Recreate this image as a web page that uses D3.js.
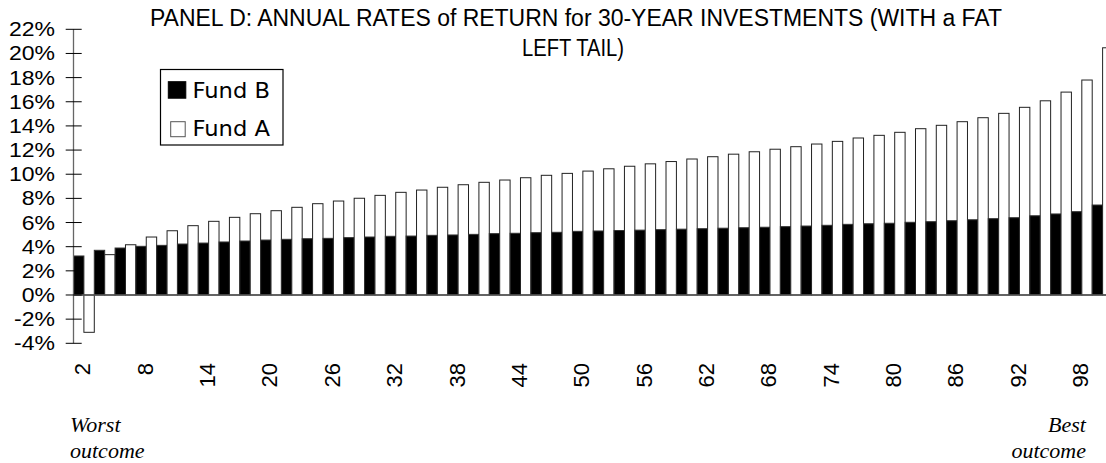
<!DOCTYPE html>
<html>
<head>
    <title></title>
    <meta charset="utf-8">
    <style>
        body { margin: 0; background: #fff; }
        svg { display: block; }
    </style>
</head>
<body>
<script src="https://cdn.jsdelivr.net/npm/d3@7"></script>
<script>
    // outcome ranks 2..100
    var outcomes = d3.range(2, 101, 2);
    var tickOutcomes = [2, 8, 14, 20, 26, 32, 38, 44, 50, 56, 62, 68, 74, 80, 86, 92, 98];
    var yTicks = [-4, -2, 0, 2, 4, 6, 8, 10, 12, 14, 16, 18, 20, 22];

    var fundB = [3.23, 3.70, 3.89, 4.03, 4.11, 4.22, 4.30, 4.39, 4.47, 4.55,
                 4.61, 4.66, 4.69, 4.75, 4.80, 4.86, 4.88, 4.94, 4.97, 5.02,
                 5.08, 5.11, 5.16, 5.19, 5.27, 5.30, 5.34, 5.37, 5.41, 5.45,
                 5.49, 5.53, 5.57, 5.61, 5.66, 5.71, 5.77, 5.85, 5.90, 5.94,
                 6.02, 6.07, 6.15, 6.23, 6.32, 6.40, 6.56, 6.71, 6.90, 7.45];
    var fundA = [-3.09, 3.34, 4.16, 4.80, 5.32, 5.74, 6.10, 6.43, 6.73, 6.98,
                 7.26, 7.56, 7.78, 8.01, 8.25, 8.50, 8.69, 8.92, 9.13, 9.33,
                 9.52, 9.71, 9.91, 10.07, 10.26, 10.45, 10.66, 10.86, 11.05, 11.26,
                 11.45, 11.66, 11.86, 12.07, 12.28, 12.50, 12.72, 13.00, 13.22, 13.47,
                 13.77, 14.05, 14.35, 14.68, 15.04, 15.54, 16.08, 16.80, 17.80, 20.47];

    var W = 1106, H = 463;
    var svg = d3.select('body').append('svg')
        .attr('width', W)
        .attr('height', H);

    var left = 73.5, groupW = 20.79;
    var x = d3.scaleBand()
        .domain(outcomes)
        .range([left, left + groupW * outcomes.length])
        .padding(0);
    var y = d3.scaleLinear().domain([-4, 22]).range([343.3, 29.3]);

    var sans = 'Liberation Sans, Arial, sans-serif';

    // bars
    var g = svg.append('g');
    outcomes.forEach(function (o, i) {
        var x0 = x(o), bw = x.bandwidth() / 2;
        g.append('rect')
            .attr('x', x0)
            .attr('width', bw)
            .attr('y', y(Math.max(0, fundB[i])))
            .attr('height', Math.abs(y(fundB[i]) - y(0)))
            .attr('fill', '#000')
            .attr('stroke', '#333')
            .attr('stroke-width', 1);
        g.append('rect')
            .attr('x', x0 + bw)
            .attr('width', bw)
            .attr('y', y(Math.max(0, fundA[i])))
            .attr('height', Math.abs(y(fundA[i]) - y(0)))
            .attr('fill', '#fff')
            .attr('stroke', '#222')
            .attr('stroke-width', 1);
    });

    // zero line
    svg.append('line')
        .attr('x1', left).attr('x2', W)
        .attr('y1', y(0)).attr('y2', y(0))
        .attr('stroke', '#555').attr('stroke-width', 1.3);

    // y axis with cross ticks
    svg.append('line')
        .attr('x1', left).attr('x2', left)
        .attr('y1', y(22)).attr('y2', y(-4))
        .attr('stroke', '#666').attr('stroke-width', 1.3);
    svg.selectAll('.ytick').data(yTicks).enter().append('line')
        .attr('x1', 65.7).attr('x2', 81.7)
        .attr('y1', function (d) { return y(d); })
        .attr('y2', function (d) { return y(d); })
        .attr('stroke', '#000').attr('stroke-width', 1);
    svg.selectAll('.ylab').data(yTicks).enter().append('text')
        .attr('x', 55)
        .attr('y', function (d) { return y(d); })
        .attr('dy', '0.36em')
        .attr('text-anchor', 'end')
        .attr('font-family', sans)
        .attr('font-size', 19.5)
        .text(function (d) { return d + '%'; })
        .each(function () {
            var len = this.getComputedTextLength();
            d3.select(this).attr('textLength', len * 1.18).attr('lengthAdjust', 'spacingAndGlyphs');
        });

    // x labels, rotated
    svg.selectAll('.xlab').data(tickOutcomes).enter().append('text')
        .attr('transform', function (d) {
            return 'translate(' + (x(d) + x.bandwidth() / 2 - 1.5) + ',363) rotate(-90)';
        })
        .attr('dy', '0.36em')
        .attr('text-anchor', 'end')
        .attr('font-family', sans)
        .attr('font-size', 22)
        .text(function (d) { return d; });

    // title
    var t1 = 'PANEL D:  ANNUAL RATES of RETURN for 30-YEAR INVESTMENTS (WITH a FAT';
    var t2 = 'LEFT TAIL)';
    svg.append('text')
        .attr('x', 576).attr('y', 25.7)
        .attr('text-anchor', 'middle')
        .attr('font-family', sans)
        .attr('font-size', 23.5)
        .attr('textLength', 852).attr('lengthAdjust', 'spacingAndGlyphs')
        .text(t1);
    svg.append('text')
        .attr('x', 573).attr('y', 55.7)
        .attr('text-anchor', 'middle')
        .attr('font-family', sans)
        .attr('font-size', 23.5)
        .attr('textLength', 102).attr('lengthAdjust', 'spacingAndGlyphs')
        .text(t2);

    // legend
    var lg = svg.append('g');
    lg.append('rect')
        .attr('x', 160.5).attr('y', 69.5)
        .attr('width', 122.5).attr('height', 75.5)
        .attr('fill', '#fff').attr('stroke', '#000').attr('stroke-width', 1.2);
    var legendItems = [
        { name: 'Fund B', fill: '#000', stroke: '#000', sy: 81.7, ty: 98.3 },
        { name: 'Fund A', fill: '#fff', stroke: '#555', sy: 121.7, ty: 135.5 }
    ];
    legendItems.forEach(function (it) {
        lg.append('rect')
            .attr('x', it.fill === '#000' ? 168.3 : 170.7)
            .attr('y', it.sy)
            .attr('width', it.fill === '#000' ? 17.5 : 14.5)
            .attr('height', it.fill === '#000' ? 16.5 : 15)
            .attr('fill', it.fill).attr('stroke', it.stroke).attr('stroke-width', 1);
        lg.append('text')
            .attr('x', 192.5).attr('y', it.ty)
            .attr('font-family', 'DejaVu Sans, sans-serif')
            .attr('font-size', 22)
            .attr('textLength', 77.5).attr('lengthAdjust', 'spacingAndGlyphs')
            .text(it.name);
    });

    // worst / best outcome notes
    var serif = 'Liberation Serif, Times New Roman, serif';
    [['Worst', 432], ['outcome', 458]].forEach(function (d) {
        svg.append('text')
            .attr('x', 70).attr('y', d[1])
            .attr('font-family', serif).attr('font-style', 'italic')
            .attr('font-size', 22)
            .text(d[0]);
    });
    [['Best', 432], ['outcome', 458]].forEach(function (d) {
        svg.append('text')
            .attr('x', 1086).attr('y', d[1])
            .attr('text-anchor', 'end')
            .attr('font-family', serif).attr('font-style', 'italic')
            .attr('font-size', 22)
            .text(d[0]);
    });
</script>
</body>
</html>
